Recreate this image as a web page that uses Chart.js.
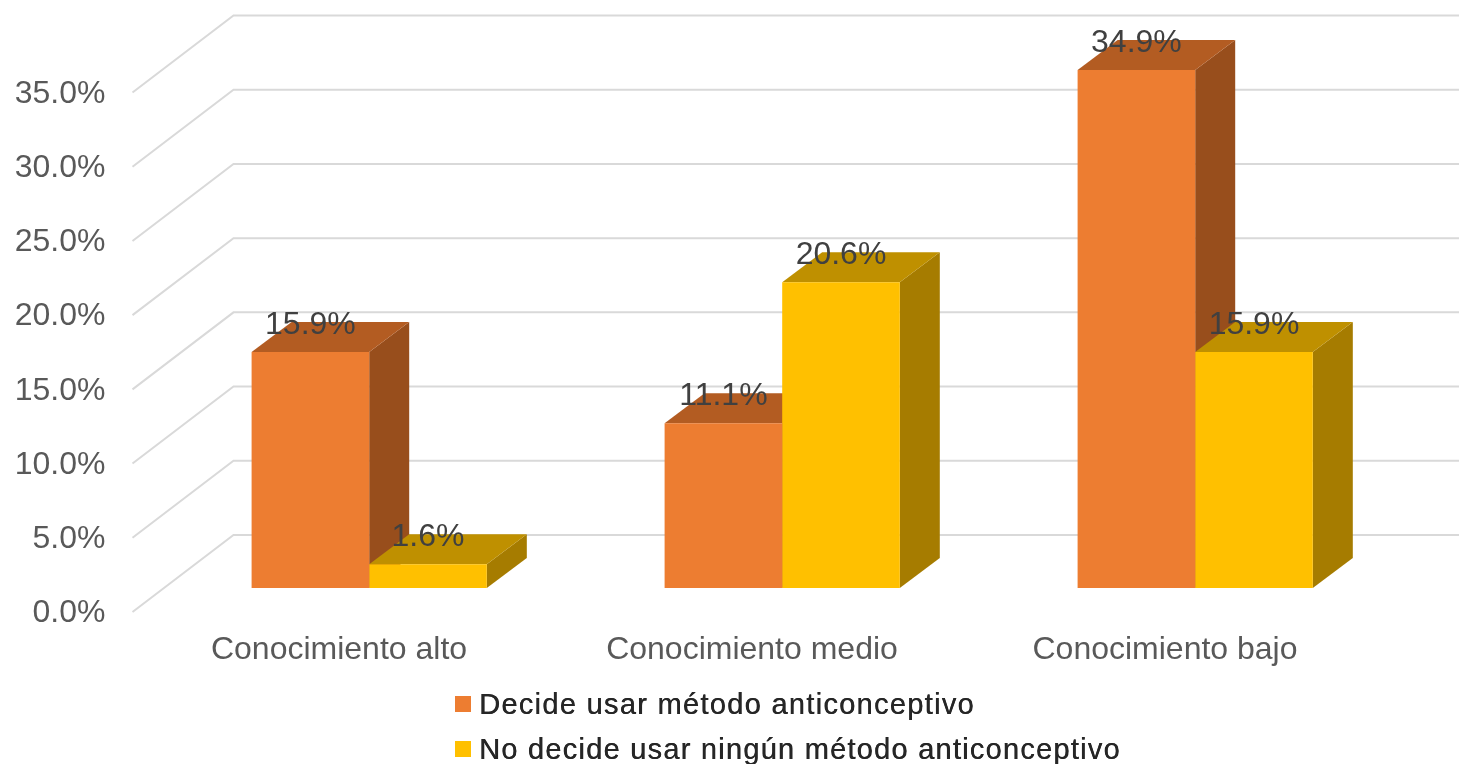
<!DOCTYPE html>
<html><head><meta charset="utf-8">
<style>html,body{margin:0;padding:0;background:#fff;overflow:hidden}#w{position:relative;width:1459px;height:764px}</style>
<script src="https://cdn.jsdelivr.net/npm/chart.js@4/dist/chart.umd.min.js"></script>
</head><body><div id="w"><canvas id="c" width="1459" height="764"></canvas></div>
<script>
const categories = ["Conocimiento alto","Conocimiento medio","Conocimiento bajo"];
const decideUsar = [15.9,11.1,34.9];
const noDecide = [1.6,20.6,15.9];
const seriesNames = ["Decide usar método anticonceptivo","No decide usar ningún método anticonceptivo"];
const valueLabels = [["15.9%","11.1%","34.9%"],["1.6%","20.6%","15.9%"]];
const faces = [{front:"#ED7D31",top:"#B35C22",side:"#984E1C"},{front:"#FFC000",top:"#BF9000",side:"#A67C00"}];

const DX=30.2, DY=-24;      // bar plane offset inside the 3D box
const WX=101, WY=-77;       // back wall offset
const BX=40, BY=-30;        // bar depth

const box3d={id:'box3d',
  beforeDatasetsDraw(ch){
    const c=ch.ctx,y=ch.scales.y,a=ch.chartArea;
    c.save();
    c.strokeStyle='#D9D9D9';c.lineWidth=2;
    y.ticks.forEach(t=>{
      const py=y.getPixelForValue(t.value);
      c.beginPath();c.moveTo(a.left,py);c.lineTo(a.left+WX,py+WY);c.lineTo(1459,py+WY);c.stroke();
    });
    c.translate(DX,DY);
    [0,1].forEach(d=>{
      ch.getDatasetMeta(d).data.forEach(b=>{
        const l=b.x-b.width/2,r=b.x+b.width/2,t=b.y,bs=b.base;
        c.fillStyle=faces[d].side;
        c.beginPath();c.moveTo(r,t);c.lineTo(r+BX,t+BY);c.lineTo(r+BX,bs+BY);c.lineTo(r,bs);c.closePath();c.fill();
        c.fillStyle=faces[d].top;
        c.beginPath();c.moveTo(l,t);c.lineTo(l+BX,t+BY);c.lineTo(r+BX,t+BY);c.lineTo(r,t);c.closePath();c.fill();
      });
    });
    // the fronts drawn next by the library stay in this shifted plane
    // (restored in afterDatasetsDraw)
  },
  afterDatasetsDraw(ch){
    const c=ch.ctx;
    c.fillStyle='#404040';c.font='32px "Liberation Sans"';c.textAlign='center';c.textBaseline='middle';
    [0,1].forEach(d=>{
      ch.getDatasetMeta(d).data.forEach((b,i)=>{
        c.fillText(valueLabels[d][i],b.x,b.y-27);
      });
    });
    c.restore();
    // legend
    c.save();
    c.font='29px "Liberation Sans"';
    c.textBaseline='middle';c.textAlign='left';
    const rows=[[455,704,1.3],[455,749,1.24]];
    rows.forEach((r,i)=>{
      c.fillStyle=faces[i].front;c.fillRect(r[0],r[1]-8,16,16);
      c.fillStyle='#262626';
      c.letterSpacing=r[2]+'px';
      c.fillText(seriesNames[i],r[0]+24,r[1]+2);
      c.fillText(seriesNames[i],r[0]+24.4,r[1]+2);
    });
    c.restore();
  }
};
new Chart(document.getElementById('c'),{
  type:'bar',
  data:{labels:categories,datasets:[
    {label:seriesNames[0],data:decideUsar,backgroundColor:faces[0].front,borderWidth:0,clip:false},
    {label:seriesNames[1],data:noDecide,backgroundColor:faces[1].front,borderWidth:0,clip:false}
  ]},
  options:{responsive:false,animation:false,
    events:[],
    layout:{padding:{left:0,right:87.5,top:92.5,bottom:0}},
    plugins:{legend:{display:false},tooltip:{enabled:false},title:{display:false}},
    datasets:{bar:{barPercentage:1,categoryPercentage:0.5695}},
    scales:{
      x:{grid:{display:false},border:{display:false},
        afterFit(s){s.height=152;},
        ticks:{color:'#595959',font:{family:'Liberation Sans',size:32},padding:11,maxRotation:0}},
      y:{min:0,max:35,grid:{display:false},border:{display:false},
        afterFit(s){s.width=132.5;},
        ticks:{stepSize:5,color:'#595959',font:{family:'Liberation Sans',size:32},padding:19,labelOffset:1.5,
          callback:v=>v.toFixed(1)+'%'}}
    }
  },
  plugins:[box3d]
});
</script></body></html>
